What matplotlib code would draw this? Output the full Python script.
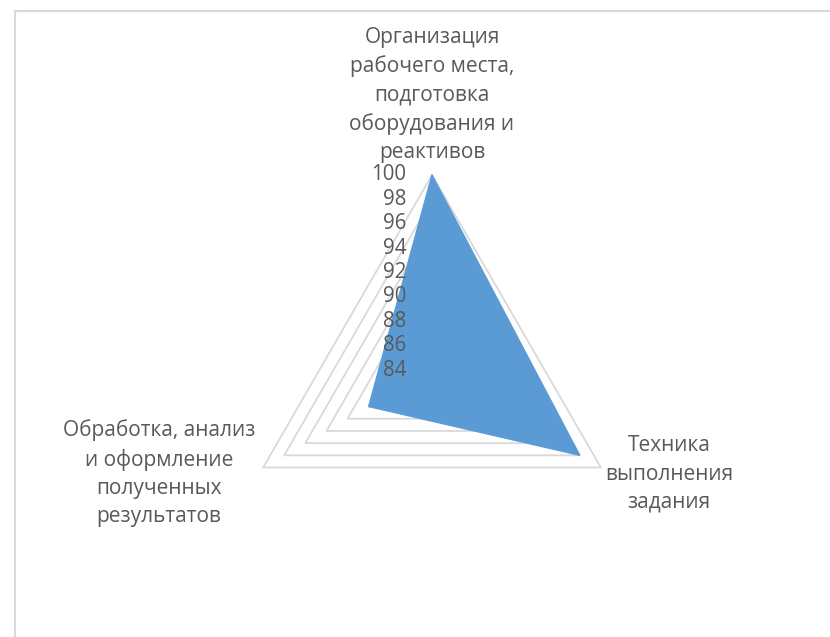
import numpy as np
import matplotlib
matplotlib.use("Agg")
import matplotlib.pyplot as plt
from matplotlib.transforms import offset_copy
from matplotlib.lines import Line2D

plt.rcParams['font.family'] = ['Open Sans', 'DejaVu Sans']

categories = [
    "Организация\nрабочего места,\nподготовка\nоборудования и\nреактивов",
    "Техника\nвыполнения\nзадания",
    "Обработка, анализ\nи оформление\nполученных\nрезультатов",
]
values = [100, 98, 90]
r_ticks = [84, 86, 88, 90, 92, 94, 96, 98, 100]
r_min, r_max = 84, 100

W, H = 830, 637
fig = plt.figure(figsize=(W / 100, H / 100), dpi=100)

cx, cy, rad = 432, 370, 195
ax = fig.add_axes([(cx - rad) / W, (H - cy - rad) / H, 2 * rad / W, 2 * rad / H],
                  projection='polar')
ax.set_theta_offset(np.pi / 2)
ax.set_theta_direction(-1)
ax.set_ylim(r_min, r_max)
ax.grid(False)
ax.spines['polar'].set_visible(False)
ax.set_xticks([])
ax.set_yticks([])
ax.patch.set_alpha(0)

n = len(categories)
angles = np.arange(n) * 2 * np.pi / n
closed = np.concatenate([angles, angles[:1]])

for v in r_ticks[1:]:
    ax.plot(closed, [v] * (n + 1), color='#d9d9d9', lw=1.3, zorder=1, clip_on=False)

vals_closed = values + values[:1]
ax.fill(closed, vals_closed, color='#5b9bd5', zorder=2, clip_on=False)

lab_tr = offset_copy(ax.transData, fig=fig, x=-26, y=0, units='dots')
for v in r_ticks:
    ax.text(0, v, str(v), transform=lab_tr, ha='right', va='center',
            fontsize=14.8, color='#595959', zorder=3)

label_pos = [(432, 95), (669, 474), (159, 473)]
for lab, (px, py) in zip(categories, label_pos):
    fig.text(px / W, 1 - py / H, lab, ha='center', va='center', fontsize=15,
             color='#595959', linespacing=1.44)

# chart border
fig.add_artist(Line2D([14.5 / W, 14.5 / W], [0, 1 - 10.5 / H], color='#d9d9d9', lw=1.5))
fig.add_artist(Line2D([14.5 / W, 1], [1 - 10.5 / H, 1 - 10.5 / H], color='#d9d9d9', lw=1.5))

fig.savefig("out.png", dpi=100, facecolor='white')
